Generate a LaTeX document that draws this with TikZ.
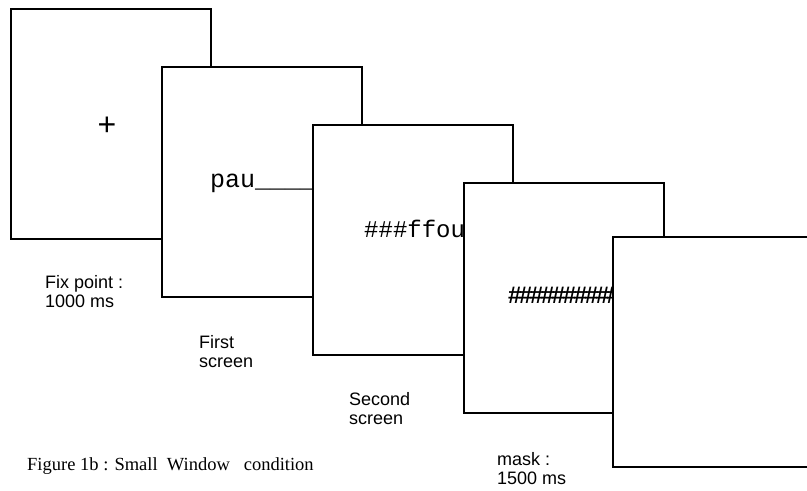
\documentclass[tikz,border=0pt]{standalone}
\usepackage{fontspec}
\setmainfont{Liberation Serif}
\setsansfont{Liberation Sans}
\setmonofont{Liberation Mono}
\newfontfamily\maskfont[LetterSpace=-10]{Liberation Sans}
\begin{document}
\begin{tikzpicture}[x=1bp,y=-1bp,
  screen/.style={draw, line width=2bp, fill=white, minimum width=200bp, minimum height=230bp, anchor=north west, inner sep=0pt, outer sep=0pt},
  lab/.style={font=\sffamily\fontsize{18bp}{19.5bp}\selectfont, align=left, anchor=north west, inner sep=0pt},
  stim/.style={font=\ttfamily\fontsize{25bp}{25bp}\selectfont, anchor=base west, inner sep=0pt}]
\useasboundingbox (0,0) rectangle (807,491);
\clip (0,0) rectangle (807,491);
\node[screen] (s1) at (11,9) {};
\node[font=\ttfamily\fontsize{32bp}{32bp}\selectfont, inner sep=0pt] (fix) at (107,126) {+};
\node[screen] (s2) at (162,67) {};
\node[stim] (t2) at (210,188) {pau\_\_\_\_\_\_\_};
\node[screen] (s3) at (313,125) {};
\node[stim, font=\ttfamily\fontsize{24bp}{24bp}\selectfont] (t3) at (364,238) {\#\#\#ffou};
\node[screen] (s4) at (464,183) {};
\node[font=\maskfont\bfseries\fontsize{24bp}{24bp}\selectfont, anchor=base west, inner sep=0pt] (t4) at (508,304) {\#\#\#\#\#\#\#\#\#\#};
\node[screen] (s5) at (613,237) {};
\node[lab] (l1) at (45,275) {Fix point :\\1000 ms};
\node[lab] (l2) at (199,335) {First\\screen};
\node[lab] (l3) at (349,392) {Second\\screen};
\node[lab] (l4) at (497,452) {mask :\\1500 ms};
\node[font=\rmfamily\fontsize{18.5bp}{20bp}\selectfont, anchor=base west, inner sep=0pt] (cap) at (27,470) {Figure 1b : Small~~Window~~~condition};
\end{tikzpicture}
\end{document}
